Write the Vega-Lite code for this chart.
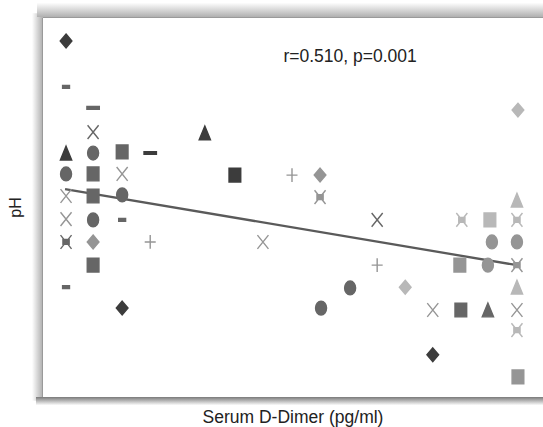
{
  "$schema": "https://vega.github.io/schema/vega-lite/v6.json",
  "width": 501,
  "height": 380,
  "autosize": "none",
  "padding": {"left": 42, "top": 17, "right": 0, "bottom": 30},
  "background": "white",
  "config": {
    "view": {"stroke": "#9a9a9a", "strokeWidth": 1},
    "font": "Liberation Sans"
  },
  "datasets": {
    "points": [
      {"dimer": 4.8, "pH": 93.7, "marker": "diamond", "tone": "dark"},
      {"dimer": 4.8, "pH": 81.6, "marker": "minus", "tone": "mid"},
      {"dimer": 4.8, "pH": 64.2, "marker": "triangle", "tone": "dark"},
      {"dimer": 4.8, "pH": 58.7, "marker": "circle", "tone": "mid"},
      {"dimer": 4.8, "pH": 52.9, "marker": "x", "tone": "light"},
      {"dimer": 4.8, "pH": 46.8, "marker": "x", "tone": "light"},
      {"dimer": 4.8, "pH": 40.8, "marker": "asterisk", "tone": "mid"},
      {"dimer": 4.8, "pH": 28.9, "marker": "minus", "tone": "mid"},
      {"dimer": 10.2, "pH": 76.1, "marker": "dash", "tone": "mid"},
      {"dimer": 10.2, "pH": 69.7, "marker": "x", "tone": "mid"},
      {"dimer": 10.2, "pH": 64.2, "marker": "circle", "tone": "mid"},
      {"dimer": 10.2, "pH": 58.7, "marker": "square", "tone": "mid"},
      {"dimer": 10.2, "pH": 52.9, "marker": "square", "tone": "mid"},
      {"dimer": 10.2, "pH": 46.6, "marker": "circle", "tone": "mid"},
      {"dimer": 10.2, "pH": 40.8, "marker": "diamond", "tone": "light"},
      {"dimer": 10.2, "pH": 34.7, "marker": "square", "tone": "mid"},
      {"dimer": 16.0, "pH": 64.5, "marker": "square", "tone": "mid"},
      {"dimer": 16.0, "pH": 58.7, "marker": "x", "tone": "light"},
      {"dimer": 16.0, "pH": 53.2, "marker": "circle", "tone": "mid"},
      {"dimer": 16.0, "pH": 46.6, "marker": "minus", "tone": "mid"},
      {"dimer": 16.0, "pH": 23.4, "marker": "diamond", "tone": "dark"},
      {"dimer": 21.6, "pH": 64.2, "marker": "dash", "tone": "dark"},
      {"dimer": 21.6, "pH": 40.8, "marker": "plus", "tone": "light"},
      {"dimer": 32.5, "pH": 69.5, "marker": "triangle", "tone": "dark"},
      {"dimer": 38.5, "pH": 58.4, "marker": "square", "tone": "dark"},
      {"dimer": 49.9, "pH": 58.4, "marker": "plus", "tone": "light"},
      {"dimer": 55.5, "pH": 58.4, "marker": "diamond", "tone": "light"},
      {"dimer": 55.5, "pH": 52.6, "marker": "asterisk", "tone": "light"},
      {"dimer": 44.1, "pH": 40.8, "marker": "x", "tone": "light"},
      {"dimer": 66.9, "pH": 46.6, "marker": "x", "tone": "mid"},
      {"dimer": 66.9, "pH": 34.7, "marker": "plus", "tone": "light"},
      {"dimer": 61.5, "pH": 28.7, "marker": "circle", "tone": "mid"},
      {"dimer": 55.7, "pH": 23.4, "marker": "circle", "tone": "mid"},
      {"dimer": 72.5, "pH": 28.9, "marker": "diamond", "tone": "pale"},
      {"dimer": 78.0, "pH": 22.9, "marker": "x", "tone": "light"},
      {"dimer": 83.6, "pH": 22.9, "marker": "square", "tone": "mid"},
      {"dimer": 89.0, "pH": 22.9, "marker": "triangle", "tone": "mid"},
      {"dimer": 78.0, "pH": 11.1, "marker": "diamond", "tone": "dark"},
      {"dimer": 95.0, "pH": 75.5, "marker": "diamond", "tone": "pale"},
      {"dimer": 94.8, "pH": 51.8, "marker": "triangle", "tone": "pale"},
      {"dimer": 83.8, "pH": 46.6, "marker": "asterisk", "tone": "pale"},
      {"dimer": 89.4, "pH": 46.6, "marker": "square", "tone": "pale"},
      {"dimer": 94.8, "pH": 46.6, "marker": "asterisk", "tone": "pale"},
      {"dimer": 89.8, "pH": 40.8, "marker": "circle", "tone": "light"},
      {"dimer": 94.8, "pH": 40.8, "marker": "circle", "tone": "light"},
      {"dimer": 83.4, "pH": 34.7, "marker": "square", "tone": "light"},
      {"dimer": 89.0, "pH": 34.7, "marker": "circle", "tone": "light"},
      {"dimer": 94.8, "pH": 34.7, "marker": "asterisk", "tone": "light"},
      {"dimer": 94.8, "pH": 28.9, "marker": "triangle", "tone": "pale"},
      {"dimer": 94.8, "pH": 22.9, "marker": "x", "tone": "light"},
      {"dimer": 94.8, "pH": 17.6, "marker": "asterisk", "tone": "pale"},
      {"dimer": 95.0, "pH": 5.3, "marker": "square", "tone": "light"}
    ],
    "fit": [
      {"dimer": 4.6, "pH": 54.7},
      {"dimer": 94.8, "pH": 34.7}
    ],
    "note": [
      {"dimer": 61.5, "pH": 89.5, "label": "r=0.510, p=0.001"}
    ],
    "shadows": [
      {"edge": "left", "x0": -2.0, "x1": 0, "y0": -1, "y1": 101},
      {"edge": "top", "x0": -1, "x1": 100, "y0": 100, "y1": 103.8},
      {"edge": "bottom", "x0": -1.2, "x1": 100, "y0": -2.2, "y1": 0}
    ]
  },
  "encoding": {
    "x": {
      "field": "dimer", "type": "quantitative",
      "scale": {"domain": [0, 100], "nice": false, "zero": false},
      "axis": {"title": "Serum D-Dimer (pg/ml)", "labels": false, "ticks": false, "domain": false, "grid": false,
               "titleFont": "Liberation Sans", "titleFontSize": 17.5, "titleFontWeight": "normal", "titleColor": "#222", "titlePadding": 11}
    },
    "y": {
      "field": "pH", "type": "quantitative",
      "scale": {"domain": [0, 100], "nice": false, "zero": false},
      "axis": {"title": "pH", "labels": false, "ticks": false, "domain": false, "grid": false,
               "titleFont": "Liberation Sans", "titleFontSize": 16, "titleFontWeight": "normal", "titleColor": "#222", "titlePadding": 19}
    }
  },
  "layer": [
    {
      "data": {"name": "shadows"},
      "transform": [{"filter": "datum.edge === 'left'"}],
      "mark": {"type": "rect",
               "fill": {"gradient": "linear", "x1": 0, "y1": 0, "x2": 1, "y2": 0,
                        "stops": [{"offset": 0, "color": "#ffffff"}, {"offset": 1, "color": "#b4b4b4"}]}},
      "encoding": {"x": {"field": "x0", "type": "quantitative"}, "x2": {"field": "x1"}, "y": {"field": "y0", "type": "quantitative"}, "y2": {"field": "y1"}}
    },
    {
      "data": {"name": "shadows"},
      "transform": [{"filter": "datum.edge === 'top'"}],
      "mark": {"type": "rect",
               "fill": {"gradient": "linear", "x1": 0, "y1": 0, "x2": 0, "y2": 1,
                        "stops": [{"offset": 0, "color": "#ffffff"}, {"offset": 1, "color": "#b0b0b0"}]}},
      "encoding": {"x": {"field": "x0", "type": "quantitative"}, "x2": {"field": "x1"}, "y": {"field": "y0", "type": "quantitative"}, "y2": {"field": "y1"}}
    },
    {
      "data": {"name": "shadows"},
      "transform": [{"filter": "datum.edge === 'bottom'"}],
      "mark": {"type": "rect",
               "fill": {"gradient": "linear", "x1": 0, "y1": 0, "x2": 0, "y2": 1,
                        "stops": [{"offset": 0, "color": "#7a7a7a"}, {"offset": 1, "color": "#ffffff"}]}},
      "encoding": {"x": {"field": "x0", "type": "quantitative"}, "x2": {"field": "x1"}, "y": {"field": "y0", "type": "quantitative"}, "y2": {"field": "y1"}}
    },
    {
      "data": {"name": "fit"},
      "mark": {"type": "line", "color": "#5a5a5a", "strokeWidth": 2.3}
    },
    {
      "data": {"name": "points"},
      "mark": {"type": "point", "filled": true, "size": 190, "strokeWidth": 1.4, "opacity": 1},
      "encoding": {
        "shape": {
          "field": "marker", "type": "nominal", "legend": null,
          "scale": {
            "domain": ["diamond", "triangle", "circle", "square", "dash", "minus", "x", "asterisk", "plus"],
            "range": [
              "M0,-1L0.85,0L0,1L-0.85,0Z",
              "M0,-1L0.82,1L-0.82,1Z",
              "M0.8,0A0.8,1,0,1,1,-0.8,0A0.8,1,0,1,1,0.8,0Z",
              "M-0.85,-1H0.85V1H-0.85Z",
              "M-0.9,-0.2H0.9V0.2H-0.9Z",
              "M-0.5,-0.2H0.5V0.2H-0.5Z",
              "M-0.8,-1L0.8,1M-0.8,1L0.8,-1",
              "M-0.8,-1L0.8,1M-0.8,1L0.8,-1M-0.45,-0.35H0.45V0.35H-0.45Z",
              "M-0.8,0H0.8M0,-1V1"
            ]
          }
        },
        "fill": {
          "field": "tone", "type": "nominal", "legend": null,
          "scale": {"domain": ["dark", "mid", "light", "pale"], "range": ["#3c3c3c", "#666666", "#959595", "#b8b8b8"]}
        },
        "stroke": {
          "field": "tone", "type": "nominal", "legend": null,
          "scale": {"domain": ["dark", "mid", "light", "pale"], "range": ["#3c3c3c", "#666666", "#959595", "#b8b8b8"]}
        }
      }
    },
    {
      "data": {"name": "note"},
      "mark": {"type": "text", "font": "Liberation Sans", "fontSize": 17.5, "color": "#222", "align": "center", "baseline": "middle"},
      "encoding": {"text": {"field": "label"}}
    }
  ]
}
